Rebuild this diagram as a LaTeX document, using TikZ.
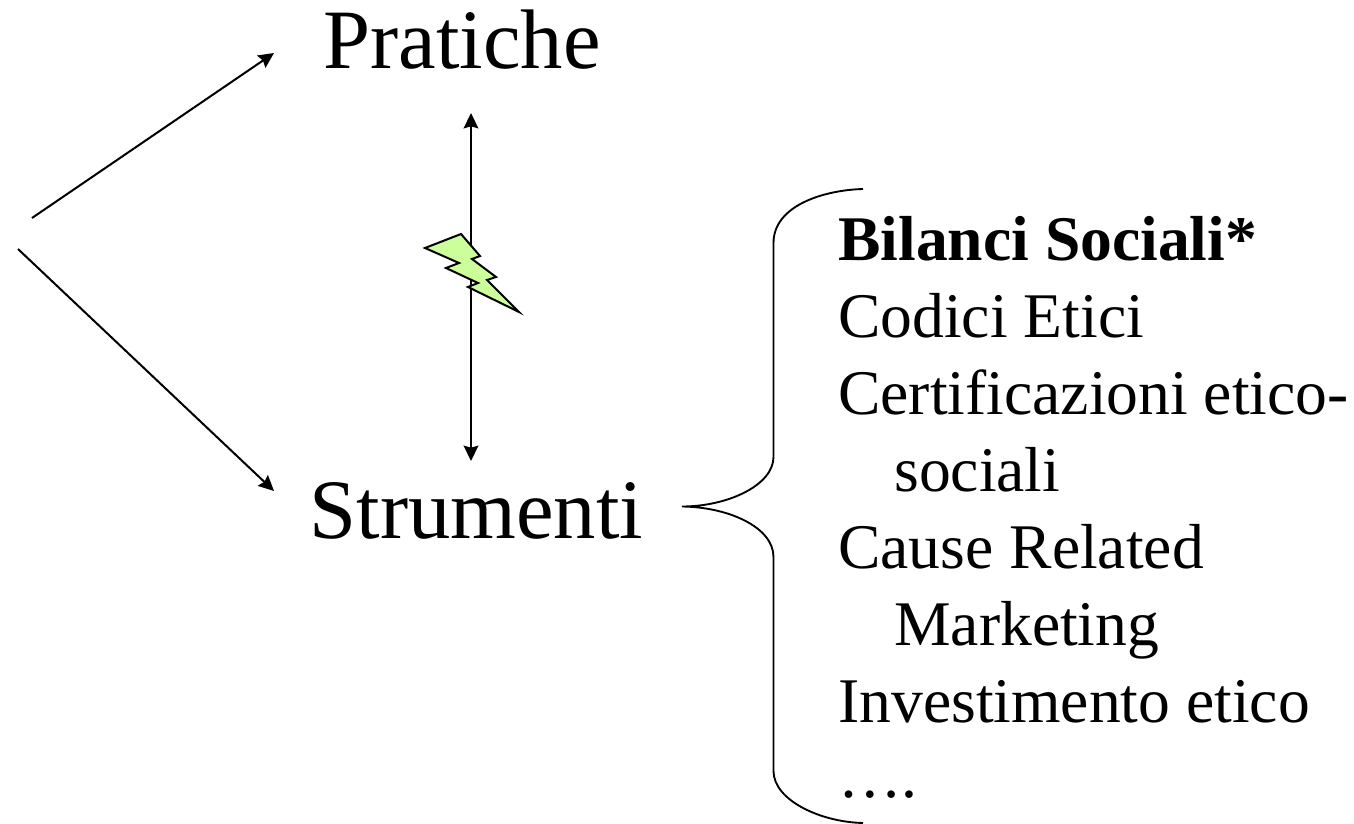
\documentclass[tikz,border=0pt]{standalone}
\usepackage{fontspec}
\setmainfont{Liberation Serif}
\usetikzlibrary{arrows.meta}
\definecolor{boltgreen}{RGB}{204,255,153}
\tikzset{
 big/.style={inner sep=0pt,font=\fontsize{63.4pt}{70pt}\selectfont,anchor=base west},
 item/.style={inner sep=0pt,font=\fontsize{47.7pt}{52pt}\selectfont,anchor=base west},
 arr/.style={line width=1.5pt,-{Stealth[length=11.5pt,width=11pt,inset=1.5pt]}},
 darr/.style={line width=1.5pt,{Stealth[length=11.5pt,width=11pt,inset=1.5pt]}-{Stealth[length=11.5pt,width=11pt,inset=1.5pt]}},
 brace/.style={line width=1.4pt},
 bolt/.style={draw=black,line width=1.5pt,fill=boltgreen,line join=miter}
}
\begin{document}
\begin{tikzpicture}[x=0.75pt,y=-0.75pt]
\useasboundingbox (0,0) rectangle (1354,824);
\node[big] (pratiche) at (323.5,68.5) {Pratiche};
\node[big] (strumenti) at (309.5,538.5) {Strumenti};
\node[item] (i1) at (838,260.7) {\textbf{Bilanci Sociali*}};
\node[item] (i2) at (838,337.6) {Codici Etici};
\node[item] (i3) at (838,414.5) {Certificazioni etico-};
\node[item] (i4) at (894,491.4) {sociali};
\node[item] (i5) at (838,568.3) {Cause Related};
\node[item] (i6) at (894,645.2) {Marketing};
\node[item] (i7) at (838,722) {Investimento etico};
\node[item] (i8) at (838,797.5) {….};
\coordinate (a1) at (32,218);
\coordinate (a2) at (274,53);
\coordinate (b1) at (18,249);
\coordinate (b2) at (274,491);
\coordinate (c1) at (471,113);
\coordinate (c2) at (471,461);
\draw[arr] (a1) -- (a2);
\draw[arr] (b1) -- (b2);
\draw[darr] (c1) -- (c2);
\draw[bolt] (425,248) -- (461,234) -- (480,256) -- (472,259) -- (496,277) -- (487,280) -- (519,312) -- (468,287) -- (478,283) -- (446,268) -- (459,263) -- cycle;
\draw[brace] (863,189) .. controls (825,190) and (773.5,205) .. (773.5,243) -- (773.5,457) .. controls (773.5,485) and (728,506.5) .. (682,506.5) .. controls (728,507) and (773.5,527) .. (773.5,557) -- (773.5,771) .. controls (773.5,800) and (820,822) .. (863,823);
\end{tikzpicture}
\end{document}
